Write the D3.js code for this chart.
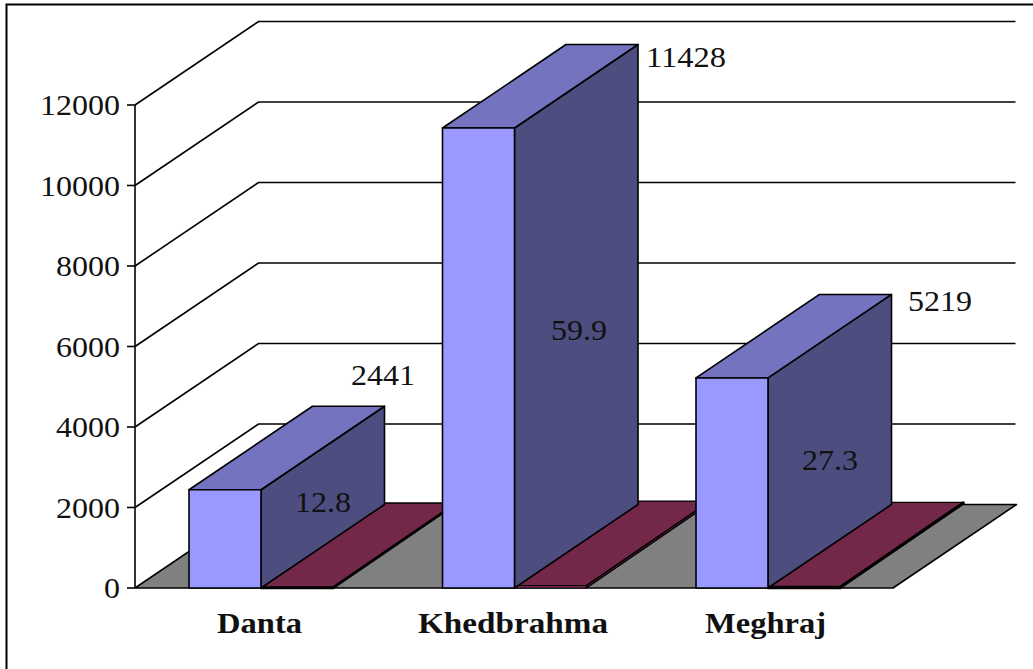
<!DOCTYPE html>
<html><head><meta charset="utf-8">
<script src="https://cdn.jsdelivr.net/npm/d3@7/dist/d3.min.js"></script>
<style>html,body{margin:0;padding:0;background:#fff}svg{display:block}text{font-family:"Liberation Serif",serif;fill:#111}</style>
</head><body><svg id="c" width="1033" height="669"></svg>
<script>
const categories = ["Danta", "Khedbrahma", "Meghraj"];
const totals = [2441, 11428, 5219];
const percents = [12.8, 59.9, 27.3];
const yTicks = [0, 2000, 4000, 6000, 8000, 10000, 12000];
const catLabelWidths = [85, 190, 121];
const catLabelX = [259.5, 513, 765.5];
const totalLabelPos = [[383, 375], [686, 57], [940, 301]];
const pctLabelPos = [[323, 502], [579, 330], [830, 460]];

const svg = d3.select("#c");
const X0 = 135, X1 = 893, DX = 123.5, DY = -83.5;
const y = d3.scaleLinear().domain([0, 12000]).range([588, 105]);
const x = d3.scaleBand().domain(categories).range([189, 949.5]);
const barW = 72;
const line = d3.line();
const poly = (pts, fill, sw = 1.6) => svg.append("path").attr("d", line(pts) + "Z")
  .attr("fill", fill).attr("stroke", "#000").attr("stroke-width", sw).attr("stroke-linejoin", "round");
const seg = (pts, sw = 1.6) => svg.append("path").attr("d", line(pts)).attr("fill", "none").attr("stroke", "#000").attr("stroke-width", sw);

// frame: only top and left edges are visible in the reference
seg([[6.5, 669], [6.5, 4.5], [1033, 4.5]], 2);

yTicks.slice(1).forEach(t => {
  seg([[X0, y(t)], [X0 + DX, y(t) + DY], [X1 + DX - 1, y(t) + DY]]);
});
poly([[X0, y(0)], [X1, y(0)], [X1 + DX, y(0) + DY], [X0 + DX, y(0) + DY]], "#808080", 1.6);
seg([[X0, y(0)], [X0, y(12000)]]);
yTicks.forEach(t => seg([[X0 - 8, y(t)], [X0, y(t)]]));

const label = (s, xx, yy, w, anchor, weight) => svg.append("text").text(s)
  .attr("x", xx).attr("y", yy).attr("text-anchor", anchor).attr("font-size", 29)
  .attr("font-weight", weight || 400).attr("dominant-baseline", "central")
  .attr("textLength", w).attr("lengthAdjust", "spacingAndGlyphs");

yTicks.forEach(t => label(String(t), 120, y(t), 16 * String(t).length, "end"));

function box(x0, w, h, cFront, cTop, cSide, opts = {}) {
  const yb = y(0), yt = y(h), dy = opts.dy ?? DY, sw = opts.sw ?? 1.6;
  const side = [[x0 + w, yb], [x0 + w + DX, yb + dy], [x0 + w + DX, yt + dy], [x0 + w, yt]];
  const top = [[x0, yt], [x0 + w, yt], [x0 + w + DX, yt + dy], [x0 + DX, yt + dy]];
  const front = [[x0, yb], [x0 + w, yb], [x0 + w, yt], [x0, yt]];
  if (opts.flat) { poly(top, cTop, 1.4); poly(side, cSide, sw); poly(front, cFront, sw); }
  else { poly(side, cSide); poly(top, cTop); poly(front, cFront); }
}

categories.forEach((c, i) => {
  const x0 = x(c);
  box(x0 + barW, barW, percents[i], "#993366", "#732849", "#4d1a33",
      { flat: true, dy: -84.5, sw: percents[i] < 40 ? 2.4 : 1.2 });
  box(x0, barW, totals[i], "#9999ff", "#7373bf", "#4d4d80");
});
categories.forEach((c, i) => {
  label(String(totals[i]), totalLabelPos[i][0], totalLabelPos[i][1], 16 * String(totals[i]).length, "middle");
  label(String(percents[i]), pctLabelPos[i][0], pctLabelPos[i][1], 56, "middle");
  label(c, catLabelX[i], 623, catLabelWidths[i], "middle", 700);
});
</script></body></html>
